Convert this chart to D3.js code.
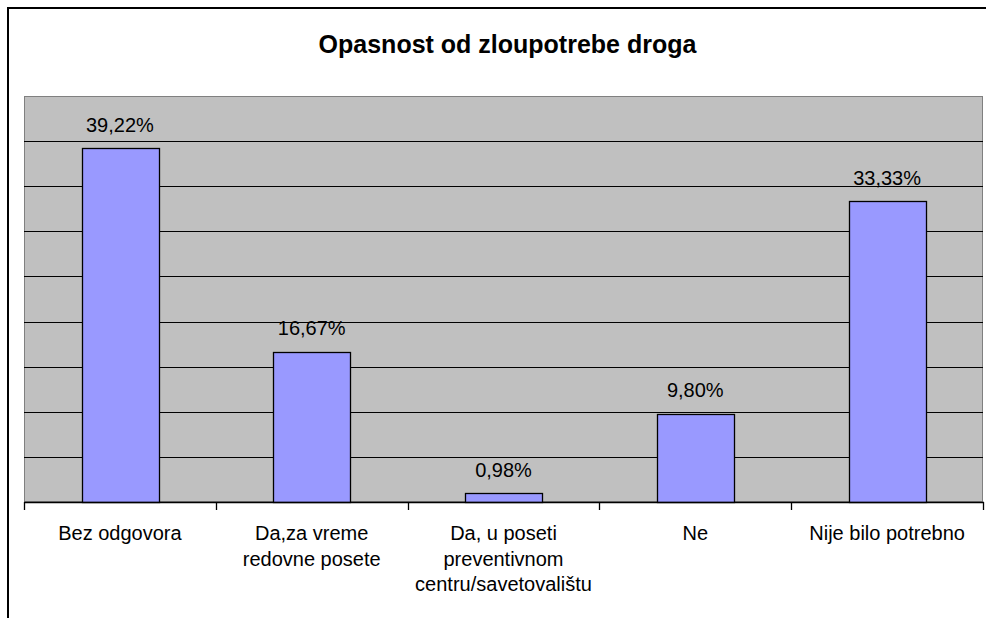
<!DOCTYPE html>
<html>
<head>
<meta charset="utf-8">
<script src="https://cdnjs.cloudflare.com/ajax/libs/d3/7.8.5/d3.min.js"></script>
<style>
	body { margin: 0; background: #fff; }
	svg { display: block; font-family: "Liberation Sans", Arial, sans-serif; }
</style>
</head>
<body>
<div id="chart"></div>
<script>
	// data
	var categories = ["Bez odgovora", "Da,za vreme\nredovne posete", "Da, u poseti\npreventivnom\ncentru/savetovalištu", "Ne", "Nije bilo potrebno"];
	var values = [39.22, 16.67, 0.98, 9.80, 33.33];
	var yTicks = [0, 5, 10, 15, 20, 25, 30, 35, 40, 45];
	var title = "Opasnost od zloupotrebe droga";

	var width = 986, height = 618;
	var plot = { left: 24, right: 983, top: 96, bottom: 502 };

	var svg = d3.select("#chart").append("svg")
		.attr("width", width)
		.attr("height", height);

	// outer chart frame (runs off the right and bottom edge)
	svg.append("rect")
		.attr("x", 8).attr("y", 8)
		.attr("width", 1000).attr("height", 640)
		.attr("fill", "#fff")
		.attr("stroke", "#000")
		.attr("stroke-width", 2);

	svg.append("text")
		.attr("x", 507.5).attr("y", 53)
		.attr("text-anchor", "middle")
		.style("font-size", "25px")
		.style("font-weight", "bold")
		.text(title);

	var x = d3.scaleBand()
		.domain(categories)
		.range([plot.left, plot.right])
		.paddingInner(0.6)
		.paddingOuter(0.3);

	var edge = d3.scaleLinear()
		.domain([0, categories.length])
		.range([plot.left, plot.right]);

	var y = d3.scaleLinear()
		.domain([0, d3.max(yTicks)])
		.range([plot.bottom, plot.top]);

	var locale = d3.formatLocale({ decimal: ",", thousands: ".", grouping: [3], currency: ["", ""] });
	var fmt = locale.format(".2f");

	// plot area
	svg.append("rect")
		.attr("x", plot.left + 0.5).attr("y", plot.top + 0.5)
		.attr("width", plot.right - plot.left - 1)
		.attr("height", plot.bottom - plot.top - 1)
		.attr("fill", "#c0c0c0")
		.attr("stroke", "#808080")
		.attr("stroke-width", 1);

	// gridlines
	svg.append("g").selectAll("line")
		.data(yTicks.slice(1, -1))
		.enter().append("line")
		.attr("x1", plot.left).attr("x2", plot.right)
		.attr("y1", function(d) { return Math.round(y(d)) + 0.5; })
		.attr("y2", function(d) { return Math.round(y(d)) + 0.5; })
		.attr("stroke", "#000")
		.attr("stroke-width", 1);

	// bars
	svg.append("g").selectAll("rect")
		.data(values)
		.enter().append("rect")
		.attr("x", function(d, i) { return Math.round(x(categories[i])) + 0.5; })
		.attr("y", function(d) { return Math.round(y(d)) + 0.5; })
		.attr("width", Math.round(x.bandwidth()))
		.attr("height", function(d) { return plot.bottom - Math.round(y(d)); })
		.attr("fill", "#9999ff")
		.attr("stroke", "#000")
		.attr("stroke-width", 1.3);

	// value labels
	svg.append("g").selectAll("text")
		.data(values)
		.enter().append("text")
		.attr("x", function(d, i) { return x(categories[i]) + x.bandwidth() / 2; })
		.attr("y", function(d) { return y(d) - 16.5; })
		.attr("text-anchor", "middle")
		.style("font-size", "20px")
		.text(function(d) { return fmt(d) + "%"; });

	// x axis line and ticks at category edges
	var axis = svg.append("g");
	axis.append("line")
		.attr("x1", plot.left).attr("x2", plot.right + 1)
		.attr("y1", plot.bottom + 0.5).attr("y2", plot.bottom + 0.5)
		.attr("stroke", "#000")
		.attr("stroke-width", 1.5);

	axis.selectAll(".tick")
		.data(d3.range(categories.length + 1))
		.enter().append("line")
		.attr("class", "tick")
		.attr("x1", function(d) { return Math.round(edge(d)) + 0.5; })
		.attr("x2", function(d) { return Math.round(edge(d)) + 0.5; })
		.attr("y1", plot.bottom).attr("y2", plot.bottom + 8)
		.attr("stroke", "#000")
		.attr("stroke-width", 1.3);

	// category labels
	var cat = axis.selectAll(".cat")
		.data(categories)
		.enter().append("text")
		.attr("class", "cat")
		.attr("text-anchor", "middle")
		.style("font-size", "20px");

	cat.selectAll("tspan")
		.data(function(d) { return d.split("\n").map(function(s) { return { text: s, cat: d }; }); })
		.enter().append("tspan")
		.attr("x", function(d) { return x(d.cat) + x.bandwidth() / 2; })
		.attr("y", function(d, i) { return 540 + i * 25.5; })
		.text(function(d) { return d.text; });
</script>
</body>
</html>
